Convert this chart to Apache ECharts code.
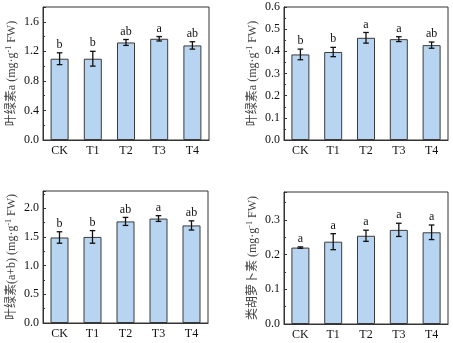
<!DOCTYPE html>
<html>
<head>
<meta charset="utf-8">
<script src="https://cdn.jsdelivr.net/npm/echarts@6/dist/echarts.min.js"></script>
<style>html,body{margin:0;padding:0;background:#fff}#c{width:453px;height:343px}</style>
</head>
<body>
<div id="c"></div>
<script>
const categories = ['CK', 'T1', 'T2', 'T3', 'T4'];

const chlA1Values = [1.10, 1.10, 1.32, 1.37, 1.28];
const chlA1Errors = [0.08, 0.10, 0.04, 0.03, 0.05];
const chlA1Letters = ['b', 'b', 'ab', 'a', 'ab'];

const chlA2Values = [0.386, 0.397, 0.461, 0.455, 0.428];
const chlA2Errors = [0.024, 0.021, 0.024, 0.011, 0.014];
const chlA2Letters = ['b', 'b', 'a', 'a', 'ab'];

const chlABValues = [1.49, 1.50, 1.77, 1.82, 1.70];
const chlABErrors = [0.10, 0.11, 0.07, 0.05, 0.08];
const chlABLetters = ['b', 'b', 'ab', 'a', 'ab'];

const carValues = [0.220, 0.237, 0.254, 0.271, 0.264];
const carErrors = [0.002, 0.023, 0.016, 0.019, 0.021];
const carLetters = ['a', 'a', 'a', 'a', 'a'];

const panels = [
  { values: chlA1Values, errors: chlA1Errors, letters: chlA1Letters, name: '叶绿素a (mg·g', max: 1.8, interval: 0.4,
    grid: { left: 43, top: 7, width: 166, height: 133 } },
  { values: chlA2Values, errors: chlA2Errors, letters: chlA2Letters, name: '叶绿素a (mg·g', max: 0.6, interval: 0.1,
    grid: { left: 284, top: 7, width: 164, height: 133 } },
  { values: chlABValues, errors: chlABErrors, letters: chlABLetters, name: '叶绿素(a+b) (mg·g', max: 2.3, interval: 0.5,
    grid: { left: 43, top: 191, width: 165, height: 132 } },
  { values: carValues, errors: carErrors, letters: carLetters, name: '类胡萝卜素 (mg·g', max: 0.38, interval: 0.1,
    grid: { left: 284, top: 192, width: 164, height: 132 } }
];

const FONT = '"Liberation Serif", "Times New Roman", "Noto Sans CJK SC", serif';
const AXIS_COLOR = '#333';

const option = { animation: false, backgroundColor: '#fff', grid: [], xAxis: [], yAxis: [], series: [] };

panels.forEach((p, i) => {
  option.grid.push(Object.assign({ show: true, borderColor: AXIS_COLOR, borderWidth: 1, backgroundColor: 'transparent' }, p.grid));
  option.xAxis.push({
    type: 'category', gridIndex: i, data: categories,
    axisLine: { lineStyle: { color: AXIS_COLOR, width: 1 } },
    axisTick: { show: false },
    axisLabel: { color: '#111', fontFamily: FONT, fontSize: 12, margin: 5 }
  });
  const iv = p.interval;
  option.yAxis.push({
    type: 'value', gridIndex: i, min: 0, max: p.max, interval: iv,
    name: '{n|' + p.name + '}{s|-1}{n| FW)}',
    nameLocation: 'middle', nameGap: 24, nameRotate: 90,
    nameTextStyle: {
      color: '#444',
      rich: {
        n: { fontFamily: FONT, fontSize: 12, color: '#444' },
        s: { fontFamily: FONT, fontSize: 8, color: '#444', padding: [0, 0, 6, 0] }
      }
    },
    splitLine: { show: false },
    axisLine: { show: true, lineStyle: { color: AXIS_COLOR, width: 1 } },
    axisTick: { show: true, inside: true, length: 3, lineStyle: { color: AXIS_COLOR } },
    minorTick: { show: true, splitNumber: 2, length: 2, lineStyle: { color: AXIS_COLOR } },
    axisLabel: {
      color: '#111', fontFamily: FONT, fontSize: 12, margin: 4,
      formatter: v => {
        const k = v / iv;
        if (Math.abs(k - Math.round(k)) > 1e-6) return '';
        return v.toFixed(1);
      }
    }
  });
  option.series.push({
    type: 'bar', xAxisIndex: i, yAxisIndex: i, data: p.values, barWidth: 18,
    itemStyle: { color: '#b7d5f1', borderColor: '#3a3a3a', borderWidth: 1 }
  });
  const letters = p.letters;
  option.series.push({
    type: 'custom', xAxisIndex: i, yAxisIndex: i, z: 5,
    data: p.values.map((v, k) => [k, v, p.errors[k]]),
    renderItem: (params, api) => {
      const x = api.value(0), y = api.value(1), e = api.value(2);
      const top = api.coord([x, y + e]);
      const bot = api.coord([x, y - e]);
      const cap = 2.8;
      const st = { stroke: '#111', lineWidth: 1.3 };
      return {
        type: 'group', children: [
          { type: 'line', shape: { x1: top[0], y1: top[1], x2: bot[0], y2: bot[1] }, style: st },
          { type: 'line', shape: { x1: top[0] - cap, y1: top[1], x2: top[0] + cap, y2: top[1] }, style: st },
          { type: 'line', shape: { x1: bot[0] - cap, y1: bot[1], x2: bot[0] + cap, y2: bot[1] }, style: st },
          { type: 'text', x: top[0], y: top[1] - 2,
            style: { text: letters[params.dataIndex], align: 'center', verticalAlign: 'bottom',
                     fontFamily: FONT, fontSize: 12, fill: '#111' } }
        ]
      };
    }
  });
});

const chart = echarts.init(document.getElementById('c'), null, { renderer: 'canvas' });
chart.setOption(option);
</script>
</body>
</html>
